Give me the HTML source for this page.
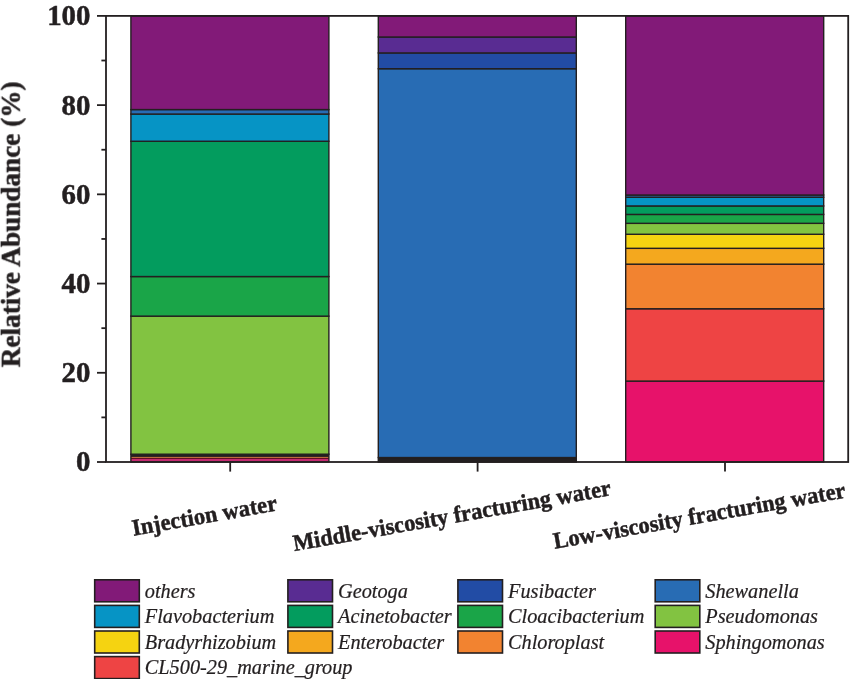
<!DOCTYPE html>
<html><head><meta charset="utf-8"><title>Relative Abundance</title>
<style>
html,body{margin:0;padding:0;background:#fff;}
body{width:854px;height:679px;overflow:hidden;}
svg{display:block;}
text{font-family:"Liberation Serif",serif;fill:#231f20;}
.b{font-weight:bold;stroke:#231f20;stroke-width:0.5px;}
.i{font-style:italic;stroke:#231f20;stroke-width:0.22px;}
</style></head><body>
<svg width="854" height="679" viewBox="0 0 854 679">
<rect x="0" y="0" width="854" height="679" fill="#ffffff"/>

<g stroke="#231f20" stroke-width="1.40" stroke-linejoin="miter">
<rect x="130.90" y="454.19" width="198.00" height="7.81" fill="#231f20"/>
<rect x="130.90" y="316.13" width="198.00" height="138.07" fill="#82c341"/>
<rect x="130.90" y="276.56" width="198.00" height="39.57" fill="#1aa548"/>
<rect x="130.90" y="141.25" width="198.00" height="135.30" fill="#039c5e"/>
<rect x="130.90" y="114.04" width="198.00" height="27.21" fill="#0694c5"/>
<rect x="130.90" y="109.58" width="198.00" height="4.46" fill="#286cb4"/>
<rect x="130.90" y="15.90" width="198.00" height="93.68" fill="#821a78"/>
</g>
<g stroke="#231f20" stroke-width="1.40" stroke-linejoin="miter">
<rect x="378.30" y="457.54" width="198.00" height="4.46" fill="#231f20"/>
<rect x="378.30" y="68.72" width="198.00" height="388.82" fill="#286cb4"/>
<rect x="378.30" y="52.93" width="198.00" height="15.79" fill="#224ca5"/>
<rect x="378.30" y="37.00" width="198.00" height="15.93" fill="#592c92"/>
<rect x="378.30" y="15.90" width="198.00" height="21.10" fill="#821a78"/>
</g>
<g stroke="#231f20" stroke-width="1.40" stroke-linejoin="miter">
<rect x="625.70" y="381.08" width="198.00" height="80.92" fill="#e7126a"/>
<rect x="625.70" y="308.76" width="198.00" height="72.31" fill="#ee4444"/>
<rect x="625.70" y="264.15" width="198.00" height="44.61" fill="#f28330"/>
<rect x="625.70" y="248.32" width="198.00" height="15.84" fill="#f4a81e"/>
<rect x="625.70" y="234.27" width="198.00" height="14.05" fill="#f5d311"/>
<rect x="625.70" y="223.34" width="198.00" height="10.93" fill="#82c341"/>
<rect x="625.70" y="214.41" width="198.00" height="8.92" fill="#1aa548"/>
<rect x="625.70" y="205.94" width="198.00" height="8.48" fill="#039c5e"/>
<rect x="625.70" y="197.24" width="198.00" height="8.70" fill="#0694c5"/>
<rect x="625.70" y="195.01" width="198.00" height="2.23" fill="#286cb4"/>
<rect x="625.70" y="15.90" width="198.00" height="179.11" fill="#821a78"/>
</g>
<rect x="131.60" y="456.90" width="196.60" height="1.20" fill="#b96c3c"/>
<rect x="131.60" y="458.10" width="196.60" height="0.90" fill="#6b0a28"/>
<rect x="131.60" y="459.00" width="196.60" height="2.30" fill="#c42a70"/>
<g stroke="#231f20" stroke-width="1.80" fill="none" stroke-linecap="butt">
<rect x="106.00" y="15.90" width="742.20" height="446.10"/>
<line x1="97.00" y1="462.00" x2="106.00" y2="462.00"/>
<line x1="101.40" y1="417.39" x2="106.00" y2="417.39"/>
<line x1="97.00" y1="372.78" x2="106.00" y2="372.78"/>
<line x1="101.40" y1="328.17" x2="106.00" y2="328.17"/>
<line x1="97.00" y1="283.56" x2="106.00" y2="283.56"/>
<line x1="101.40" y1="238.95" x2="106.00" y2="238.95"/>
<line x1="97.00" y1="194.34" x2="106.00" y2="194.34"/>
<line x1="101.40" y1="149.73" x2="106.00" y2="149.73"/>
<line x1="97.00" y1="105.12" x2="106.00" y2="105.12"/>
<line x1="101.40" y1="60.51" x2="106.00" y2="60.51"/>
<line x1="97.00" y1="15.90" x2="106.00" y2="15.90"/>
<line x1="230.20" y1="462.00" x2="230.20" y2="471.60"/>
<line x1="477.60" y1="462.00" x2="477.60" y2="471.60"/>
<line x1="725.00" y1="462.00" x2="725.00" y2="471.60"/>
</g>
<g opacity="0.999">
<text class="b" font-size="29.6" text-anchor="end" transform="translate(90.4,471.40) scale(0.975,1)">0</text>
<text class="b" font-size="29.6" text-anchor="end" transform="translate(90.4,382.18) scale(0.975,1)">20</text>
<text class="b" font-size="29.6" text-anchor="end" transform="translate(90.4,292.96) scale(0.975,1)">40</text>
<text class="b" font-size="29.6" text-anchor="end" transform="translate(90.4,203.74) scale(0.975,1)">60</text>
<text class="b" font-size="29.6" text-anchor="end" transform="translate(90.4,114.52) scale(0.975,1)">80</text>
<text class="b" font-size="29.6" text-anchor="end" transform="translate(90.4,25.30) scale(0.975,1)">100</text>
<text class="b" font-size="28" text-anchor="middle" transform="translate(19.8,224.4) rotate(-90) scale(0.972,1)">Relative Abundance (%)</text>
<text class="b" font-size="23.3" text-anchor="middle" transform="translate(205.70,523.1) rotate(-10) scale(0.966,1)">Injection water</text>
<text class="b" font-size="23.3" text-anchor="middle" transform="translate(453.10,523.1) rotate(-10) scale(0.966,1)">Middle-viscosity fracturing water</text>
<text class="b" font-size="23.3" text-anchor="middle" transform="translate(700.50,523.1) rotate(-10) scale(0.966,1)">Low-viscosity fracturing water</text>
<rect x="94.70" y="579.80" width="44.60" height="22.00" fill="#821a78" stroke="#231f20" stroke-width="1.6"/>
<text class="i" font-size="20.3" x="144.80" y="597.50">others</text>
<rect x="287.90" y="579.80" width="44.60" height="22.00" fill="#592c92" stroke="#231f20" stroke-width="1.6"/>
<text class="i" font-size="20.3" x="338.00" y="597.50">Geotoga</text>
<rect x="457.90" y="579.80" width="44.60" height="22.00" fill="#224ca5" stroke="#231f20" stroke-width="1.6"/>
<text class="i" font-size="20.3" x="508.00" y="597.50">Fusibacter</text>
<rect x="655.20" y="579.80" width="44.60" height="22.00" fill="#286cb4" stroke="#231f20" stroke-width="1.6"/>
<text class="i" font-size="20.3" x="705.30" y="597.50">Shewanella</text>
<rect x="94.70" y="605.40" width="44.60" height="22.00" fill="#0694c5" stroke="#231f20" stroke-width="1.6"/>
<text class="i" font-size="20.3" x="144.80" y="623.10">Flavobacterium</text>
<rect x="287.90" y="605.40" width="44.60" height="22.00" fill="#039c5e" stroke="#231f20" stroke-width="1.6"/>
<text class="i" font-size="20.3" x="338.00" y="623.10">Acinetobacter</text>
<rect x="457.90" y="605.40" width="44.60" height="22.00" fill="#1aa548" stroke="#231f20" stroke-width="1.6"/>
<text class="i" font-size="20.3" x="508.00" y="623.10">Cloacibacterium</text>
<rect x="655.20" y="605.40" width="44.60" height="22.00" fill="#82c341" stroke="#231f20" stroke-width="1.6"/>
<text class="i" font-size="20.3" x="705.30" y="623.10">Pseudomonas</text>
<rect x="94.70" y="631.00" width="44.60" height="22.00" fill="#f5d311" stroke="#231f20" stroke-width="1.6"/>
<text class="i" font-size="20.3" x="144.80" y="648.70">Bradyrhizobium</text>
<rect x="287.90" y="631.00" width="44.60" height="22.00" fill="#f4a81e" stroke="#231f20" stroke-width="1.6"/>
<text class="i" font-size="20.3" x="338.00" y="648.70">Enterobacter</text>
<rect x="457.90" y="631.00" width="44.60" height="22.00" fill="#f28330" stroke="#231f20" stroke-width="1.6"/>
<text class="i" font-size="20.3" x="508.00" y="648.70">Chloroplast</text>
<rect x="655.20" y="631.00" width="44.60" height="22.00" fill="#e7126a" stroke="#231f20" stroke-width="1.6"/>
<text class="i" font-size="20.3" x="705.30" y="648.70">Sphingomonas</text>
<rect x="94.70" y="656.60" width="44.60" height="22.00" fill="#ee4444" stroke="#231f20" stroke-width="1.6"/>
<text class="i" font-size="20.3" x="144.80" y="674.30">CL500-29_marine_group</text>
</g>
</svg>
</body></html>
